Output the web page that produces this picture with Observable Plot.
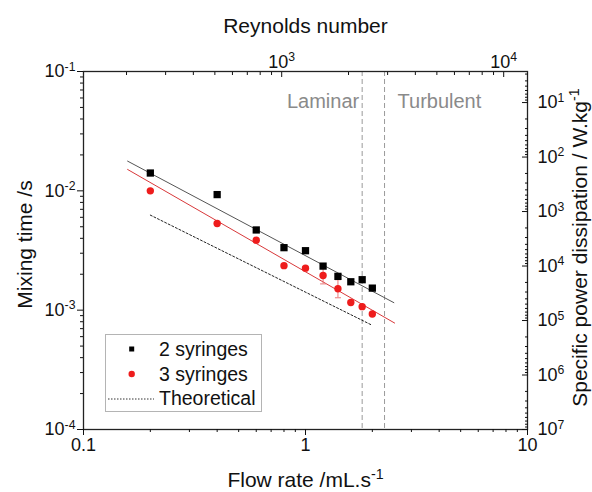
<!DOCTYPE html>
<html><head><meta charset="utf-8">
<script src="https://cdn.jsdelivr.net/npm/d3@7"></script>
<script src="https://cdn.jsdelivr.net/npm/@observablehq/plot@0.6"></script>
<style>
html,body{margin:0;padding:0;background:#fff;}
#wrap{position:relative;width:592px;height:492px;font-family:"Liberation Sans",Arial,sans-serif;}
#legend{position:absolute;left:105px;top:334px;width:157px;height:78px;border:1px solid #b4b4b4;background:#fff;box-sizing:border-box;}
.row{position:absolute;left:0;height:24px;display:flex;align-items:center;font-size:19.5px;color:#111;white-space:nowrap;}
.row svg{display:block;}
</style></head><body><div id="wrap"><div id="legend"></div></div>
<script>
// ---- data ----
const flowRate = [0.2, 0.4, 0.6, 0.8, 1.0, 1.2, 1.4, 1.6, 1.8, 2.0];           // mL/s
const mixTime2 = [0.0141, 0.0093, 0.0047, 0.00334, 0.00315, 0.00234, 0.00192, 0.00173, 0.0018, 0.00153]; // 2 syringes
const mixTime3 = [0.0100, 0.00533, 0.00386, 0.00236, 0.00225, 0.00195, 0.00151, 0.00116, 0.00107, 0.00093]; // 3 syringes
const errFlow = [1.2, 1.4];
const errLow  = [0.00166, 0.00127];
const errHigh = [0.00229, 0.00180];
const fit2Flow = [0.158, 2.5],  fit2Time = [0.01774, 0.001156];
const fit3Flow = [0.158, 2.52], fit3Time = [0.0151, 0.00078];
const theoFlow = [0.2, 2.0],    theoTime = [0.00626, 0.000746];
const regimeFlow = [1.8, 2.27];
const regimeLabels = ["Laminar", "Turbulent"];
const seriesNames = ["2 syringes", "3 syringes", "Theoretical"];

// axes
const xMajor = [0.1, 1, 10];
const xMinor = [0.2,0.3,0.4,0.5,0.6,0.7,0.8,0.9,2,3,4,5,6,7,8,9];
const yMajor = [1e-4, 1e-3, 1e-2, 1e-1];
const yMinor = [2e-4,3e-4,4e-4,5e-4,6e-4,7e-4,8e-4,9e-4,2e-3,3e-3,4e-3,5e-3,6e-3,7e-3,8e-3,9e-3,2e-2,3e-2,4e-2,5e-2,6e-2,7e-2,8e-2,9e-2];
const reynoldsPerFlow = 1280;               // Re per mL/s (top axis calibration)
const reMajor = [1e3, 1e4];
const reMinor = [200,300,400,500,600,700,800,900,2000,3000,4000,5000,6000,7000,8000,9000];
const powerMajor = [1e1, 1e2, 1e3, 1e4, 1e5, 1e6, 1e7];
const powerMinorMult = [2,3,4,5,6,7,8,9];
const powerAtBottomExp = 7, timeAtBottomExp = -4, powerDecadesPerTimeDecade = 2.19;

// ---- layout ----
const W = 592, H = 492, mL = 83, mR = 65, mT = 71, mB = 63;
const font = "'Liberation Sans', Arial, sans-serif";

const powerToTime = p => Math.pow(10, timeAtBottomExp + (powerAtBottomExp - Math.log10(p)) / powerDecadesPerTimeDecade);
const timeToPowerExp = t => powerAtBottomExp - (Math.log10(t) - timeAtBottomExp) * powerDecadesPerTimeDecade;
const minPowerExp = timeToPowerExp(1e-1);
const powerMinor = [];
for (let k = 0; k < 7; k++) for (const m of powerMinorMult) { const p = m * Math.pow(10, k); if (Math.log10(p) >= minPowerExp) powerMinor.push(p); }

const rows = flowRate.map((q, i) => ({q, t2: mixTime2[i], t3: mixTime3[i]}));
const errRows = errFlow.map((q, i) => ({q, lo: errLow[i], hi: errHigh[i]}));
const pts = (qs, ts) => qs.map((q, i) => ({q, t: ts[i]}));
const capSymbol = {draw(ctx, size) { const r = Math.sqrt(size / Math.PI); ctx.moveTo(-r, 0); ctx.lineTo(r, 0); }};
const pow10 = e => `10^${e}`;
const centered = {textAnchor: "middle", lineAnchor: "middle"};

const svg = Plot.plot({
  width: W, height: H,
  marginLeft: mL, marginRight: mR, marginTop: mT, marginBottom: mB,
  style: {fontFamily: font, fontSize: "18px", color: "#111", background: "#fff"},
  x: {type: "log", domain: [0.1, 10]},
  y: {type: "log", domain: [1e-4, 1e-1]},
  marks: [
    Plot.ruleX(regimeFlow, {x: d => d, stroke: "#9a9a9a", strokeWidth: 1, strokeDasharray: "5,3"}),
    Plot.text([regimeFlow[0]], {x: d => d, text: () => regimeLabels[0], frameAnchor: "top", dy: 30, dx: -3, textAnchor: "end", lineAnchor: "middle", fill: "#8a8a8a", fontSize: 20}),
    Plot.text([regimeFlow[1]], {x: d => d, text: () => regimeLabels[1], frameAnchor: "top", dy: 30, dx: 13, textAnchor: "start", lineAnchor: "middle", fill: "#8a8a8a", fontSize: 20}),
    Plot.line(pts(theoFlow, theoTime), {x: "q", y: "t", stroke: "#222", strokeWidth: 1, strokeDasharray: "2,2"}),
    Plot.line(pts(fit2Flow, fit2Time), {x: "q", y: "t", stroke: "#555", strokeWidth: 1}),
    Plot.line(pts(fit3Flow, fit3Time), {x: "q", y: "t", stroke: "#d8383a", strokeWidth: 1}),
    Plot.ruleX(errRows, {x: "q", y1: "lo", y2: "hi", stroke: "#e87878", strokeWidth: 1}),
    Plot.dot(errRows, {x: "q", y: "lo", symbol: capSymbol, r: 3, stroke: "#e87878", fill: "none", strokeWidth: 1}),
    Plot.dot(errRows, {x: "q", y: "hi", symbol: capSymbol, r: 3, stroke: "#e87878", fill: "none", strokeWidth: 1}),
    Plot.dot(rows, {x: "q", y: "t3", r: 3.7, fill: "#ee1c1c"}),
    Plot.dot(rows, {x: "q", y: "t2", symbol: "square", r: 4.1, fill: "#000"}),
    Plot.frame({stroke: "#222", strokeWidth: 1.3}),
    // bottom axis
    Plot.axisX({anchor: "bottom", ticks: xMajor, tickSize: 6, tickPadding: 3, tickFormat: d => String(d), fontSize: 18, label: null}),
    Plot.axisX({anchor: "bottom", ticks: xMinor, tickSize: 3, tickFormat: () => "", label: null}),
    // left axis
    Plot.axisY({anchor: "left", ticks: yMajor, tickSize: 6, tickPadding: 2, tickFormat: d => pow10(Math.round(Math.log10(d))), fontSize: 18, label: null}),
    Plot.axisY({anchor: "left", ticks: yMinor, tickSize: 3, tickFormat: () => "", label: null}),
    // top axis (Reynolds number): inward ticks + labels
    Plot.axisX({anchor: "top", ticks: reMajor.map(r => r / reynoldsPerFlow), tickSize: 5, dy: 5, tickFormat: () => "", label: null}),
    Plot.axisX({anchor: "top", ticks: reMinor.map(r => r / reynoldsPerFlow), tickSize: 3, dy: 3, tickFormat: () => "", label: null}),
    Plot.text(reMajor, {x: r => r / reynoldsPerFlow, text: r => pow10(Math.round(Math.log10(r))), frameAnchor: "top", textAnchor: "middle", lineAnchor: "bottom", dy: -4, fontSize: 18, fill: "#111"}),
    // right axis (specific power dissipation): inward ticks + labels
    Plot.axisY({anchor: "right", ticks: powerMajor.map(powerToTime), tickSize: 6, dx: -6, tickFormat: () => "", label: null}),
    Plot.axisY({anchor: "right", ticks: powerMinor.map(powerToTime), tickSize: 3, dx: -3, tickFormat: () => "", label: null}),
    Plot.text(powerMajor, {y: powerToTime, text: p => pow10(Math.round(Math.log10(p))), frameAnchor: "right", textAnchor: "start", lineAnchor: "middle", dx: 10, fontSize: 18, fill: "#111"}),
    // titles
    Plot.text(["Reynolds number"], {text: d => d, frameAnchor: "top", dy: -45, fontSize: 21, fill: "#111", ...centered}),
    Plot.text(["Flow rate /mL.s^-1"], {text: d => d, frameAnchor: "bottom", dy: 51, fontSize: 21, fill: "#111", ...centered}),
    Plot.text(["Mixing time /s"], {text: d => d, frameAnchor: "left", dx: -58, dy: -6, rotate: -90, fontSize: 21, fill: "#111", ...centered}),
    Plot.text(["Specific power dissipation / W.kg^-1"], {text: d => d, frameAnchor: "right", dx: 53, dy: -3, rotate: -90, fontSize: 21, fill: "#111", ...centered})
  ]
});

// superscripts
d3.select(svg).selectAll("text").each(function() {
  const tsp = this.querySelectorAll("tspan");
  const nodes = tsp.length ? Array.from(tsp) : [this];
  nodes.forEach(n => {
    const s = n.textContent;
    if (!s.includes("^")) return;
    const [b, e] = s.split("^");
    n.textContent = b;
    const sp = document.createElementNS("http://www.w3.org/2000/svg", "tspan");
    sp.setAttribute("dy", "-0.55em");
    sp.setAttribute("font-size", "0.68em");
    sp.textContent = e;
    n.appendChild(sp);
  });
});
document.getElementById("wrap").prepend(svg);

// legend
const legend = document.getElementById("legend");
const symbols = [
  `<rect x="23.2" y="9.5" width="5" height="5" fill="#000"/>`,
  `<circle cx="25.7" cy="12" r="3.2" fill="#ee1c1c"/>`,
  `<line x1="2" x2="48" y1="12" y2="12" stroke="#333" stroke-width="1" stroke-dasharray="1.5,1.5"/>`
];
const centers = [14.3, 39.3, 63.7];
seriesNames.forEach((name, i) => {
  const r = document.createElement("div");
  r.className = "row";
  r.style.top = (centers[i] - 12) + "px";
  r.innerHTML = `<svg width="53" height="24">${symbols[i]}</svg><span>${name}</span>`;
  legend.appendChild(r);
});
</script></body></html>
